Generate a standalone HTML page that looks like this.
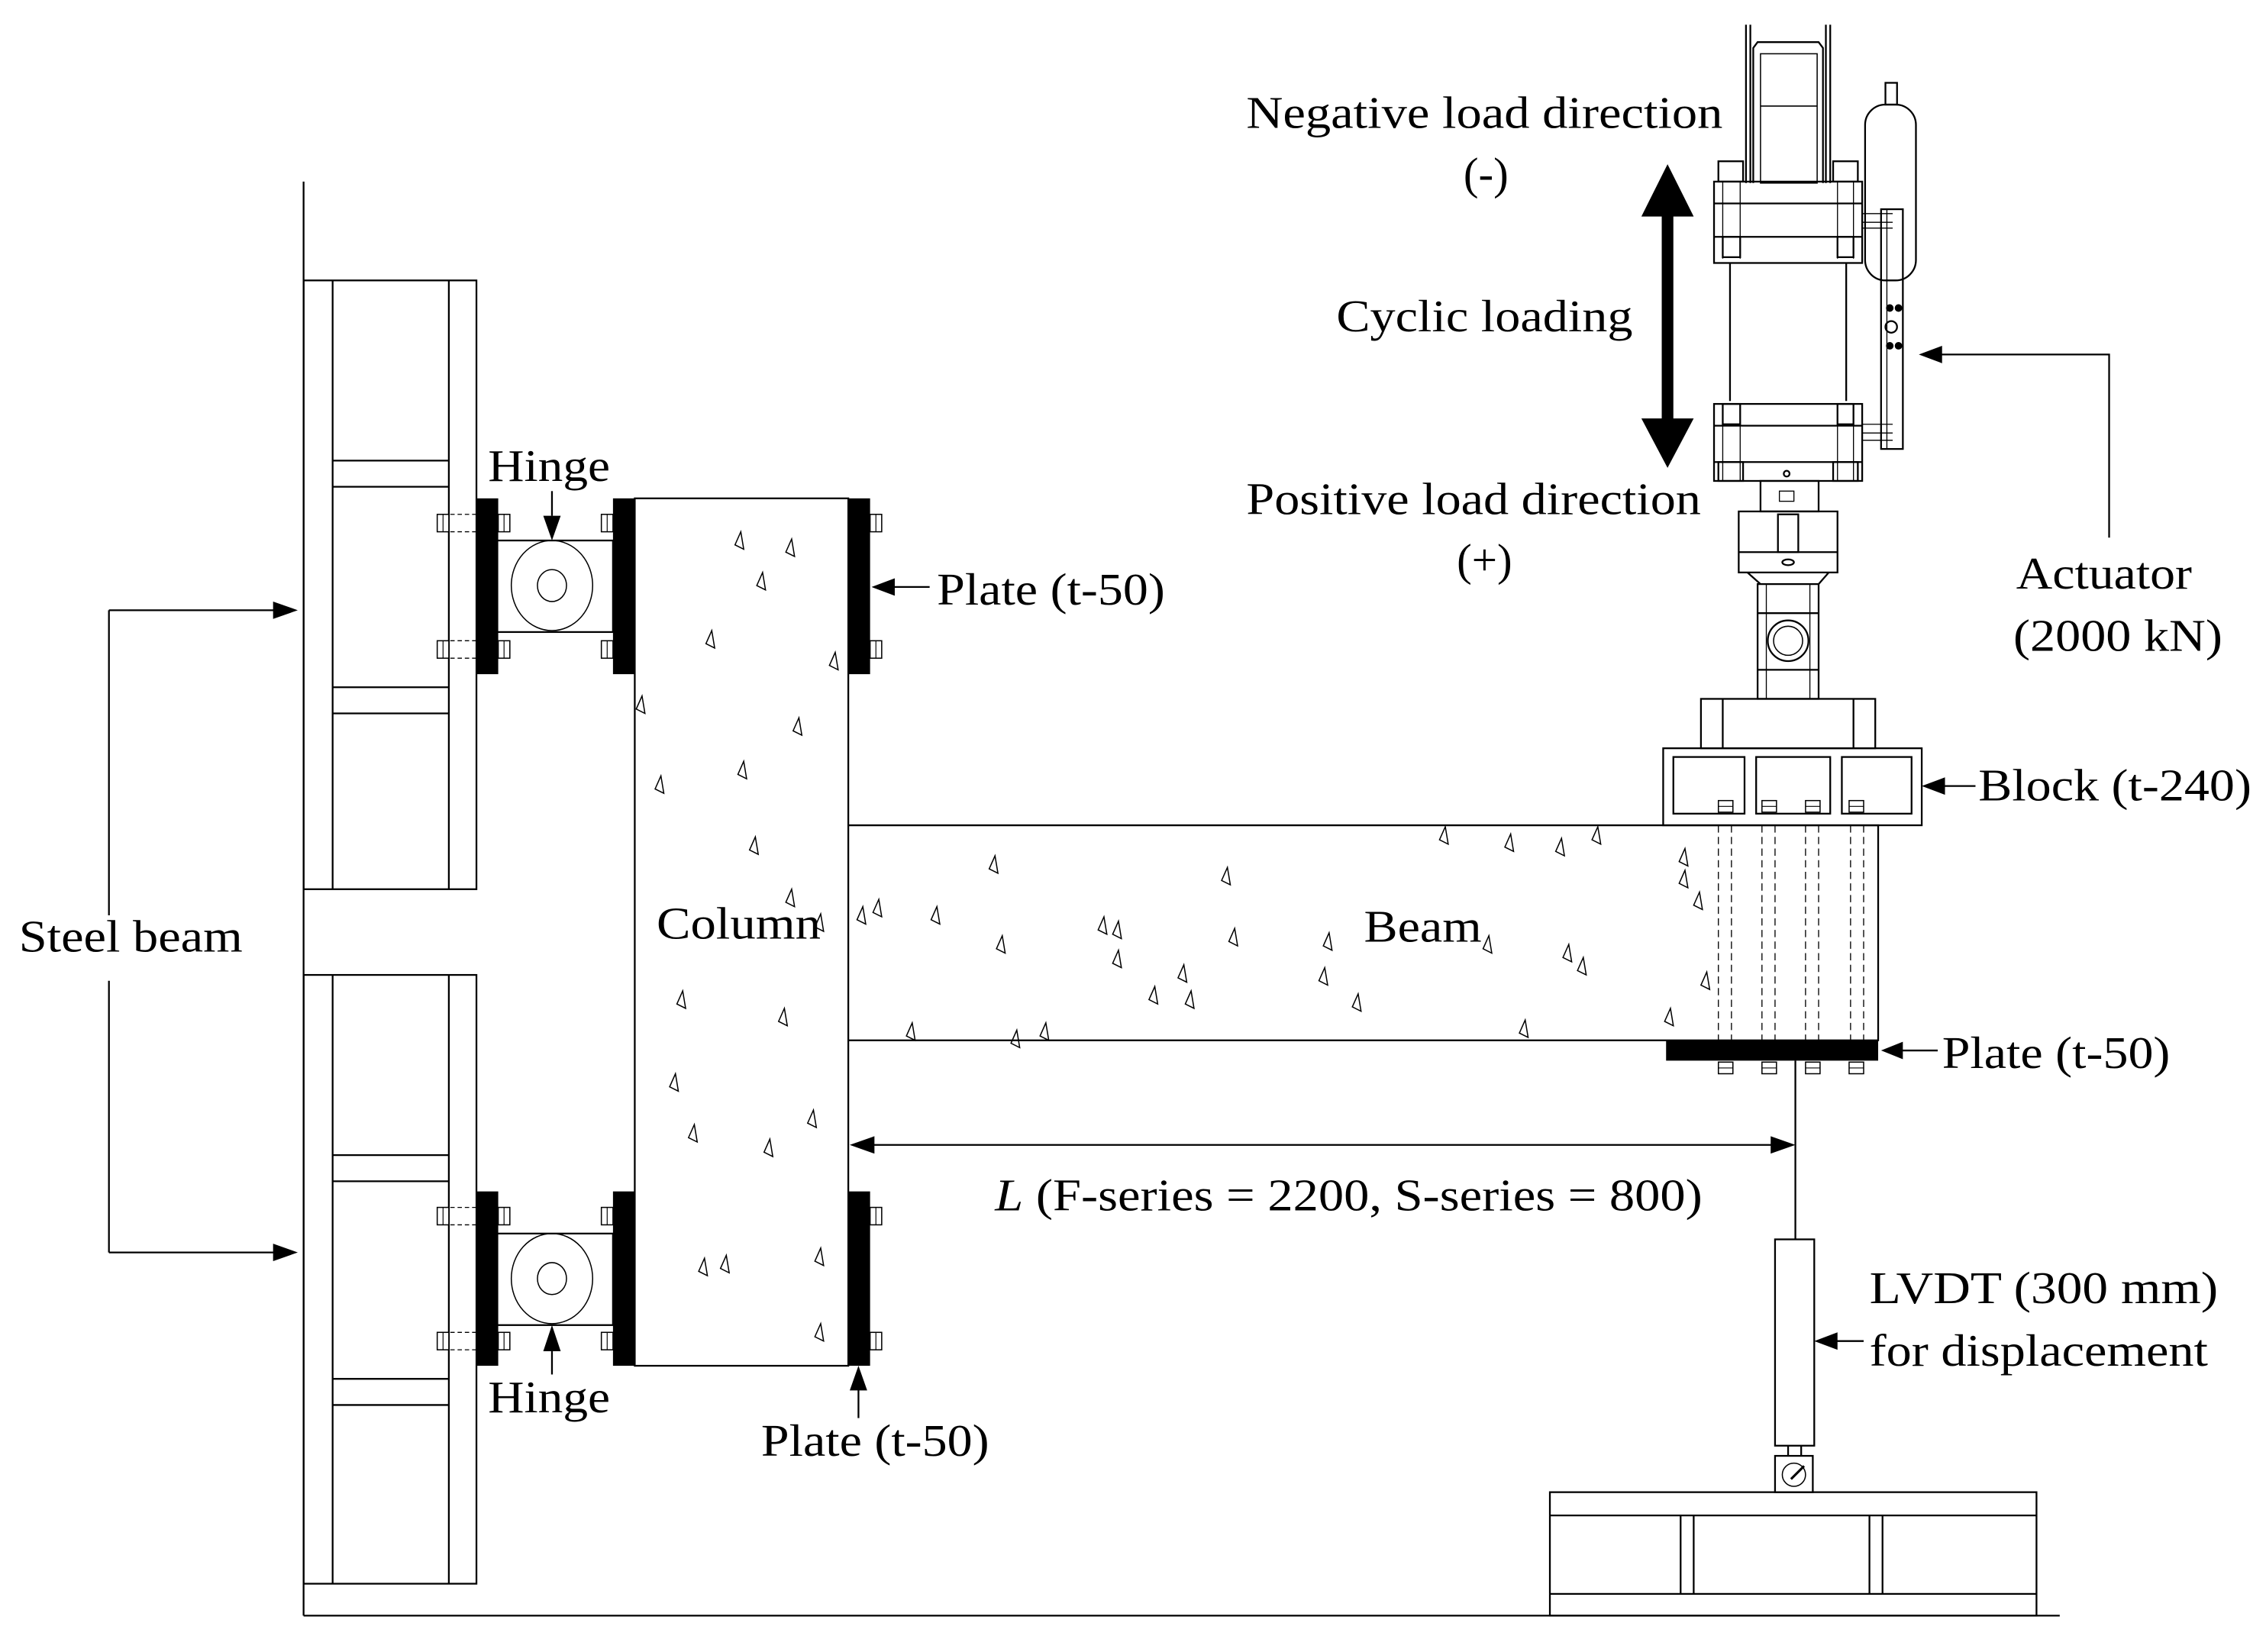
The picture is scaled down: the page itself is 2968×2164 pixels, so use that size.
<!DOCTYPE html>
<html><head><meta charset="utf-8"><style>
html,body{margin:0;padding:0;background:#fff;}
svg{display:block;}
text{font-family:"Liberation Serif",serif;fill:#000;}
</style></head><body>
<svg width="2968" height="2164" viewBox="0 0 1560 1137" preserveAspectRatio="none" xmlns="http://www.w3.org/2000/svg">
<defs>
<path id="tri" d="M0,-6 L2,6 L-4,3 Z" fill="none" stroke="#000" stroke-width="0.8"/>
<g id="nut"><rect x="-5" y="-4" width="10" height="8" fill="#fff" stroke="#000" stroke-width="0.8"/><line x1="-5" y1="0" x2="5" y2="0" stroke="#000" stroke-width="0.6"/></g>
<g id="hnut"><rect x="-4" y="-6" width="8" height="12" fill="#fff" stroke="#000" stroke-width="0.8"/><line x1="0" y1="-6" x2="0" y2="6" stroke="#000" stroke-width="0.6"/></g>
</defs>
<g fill="none" stroke="#000" stroke-width="1.2">
<!-- frame lines -->
<line x1="209" y1="125" x2="209" y2="1112"/>
<line x1="209" y1="1112" x2="1418" y2="1112"/>
<!-- steel beam upper -->
<rect x="209" y="193" width="119" height="419"/>
<line x1="229" y1="193" x2="229" y2="612"/><line x1="309" y1="193" x2="309" y2="612"/>
<line x1="229" y1="317" x2="309" y2="317"/><line x1="229" y1="335" x2="309" y2="335"/>
<line x1="229" y1="473" x2="309" y2="473"/><line x1="229" y1="491" x2="309" y2="491"/>
<!-- steel beam lower -->
<rect x="209" y="671" width="119" height="419"/>
<line x1="229" y1="671" x2="229" y2="1090"/><line x1="309" y1="671" x2="309" y2="1090"/>
<line x1="229" y1="795" x2="309" y2="795"/><line x1="229" y1="813" x2="309" y2="813"/>
<line x1="229" y1="949" x2="309" y2="949"/><line x1="229" y1="967" x2="309" y2="967"/>
<!-- hinge boxes -->
<rect x="338" y="372" width="84" height="63"/>
<ellipse cx="380" cy="403" rx="28" ry="31" stroke-width="0.8"/>
<ellipse cx="380" cy="403" rx="10" ry="11" stroke-width="0.8"/>
<rect x="338" y="849" width="84" height="63"/>
<ellipse cx="380" cy="880" rx="28" ry="31" stroke-width="0.8"/>
<ellipse cx="380" cy="880" rx="10" ry="11" stroke-width="0.8"/>
<!-- column & beam -->
<rect x="437" y="343" width="147" height="597"/>
<path d="M584,568 H1293 V716 H584"/>
<!-- block -->
<rect x="1171" y="481" width="120" height="34"/>
<line x1="1186" y1="481" x2="1186" y2="515"/><line x1="1276" y1="481" x2="1276" y2="515"/>
<rect x="1145" y="515" width="178" height="53"/>
<rect x="1152" y="521" width="49" height="39"/>
<rect x="1209" y="521" width="51" height="39"/>
<rect x="1268" y="521" width="48" height="39"/>
<!-- LVDT -->
<line x1="1236" y1="730" x2="1236" y2="853"/>
<rect x="1222" y="853" width="27" height="142"/>
<line x1="1231" y1="995" x2="1231" y2="1002"/><line x1="1240" y1="995" x2="1240" y2="1002"/>
<rect x="1222" y="1002" width="26" height="25"/>
<circle cx="1235" cy="1015" r="8" stroke-width="0.8"/>
<line x1="1233" y1="1018" x2="1242" y2="1009" stroke-width="1.6"/>
<rect x="1067" y="1027" width="335" height="85"/>
<line x1="1067" y1="1043" x2="1402" y2="1043"/>
<line x1="1067" y1="1097" x2="1402" y2="1097"/>
<line x1="1157" y1="1043" x2="1157" y2="1097"/><line x1="1166" y1="1043" x2="1166" y2="1097"/>
<line x1="1287" y1="1043" x2="1287" y2="1097"/><line x1="1296" y1="1043" x2="1296" y2="1097"/>
<!-- actuator -->
<line x1="1202" y1="17" x2="1202" y2="126"/><line x1="1205" y1="17" x2="1205" y2="126"/>
<line x1="1257" y1="17" x2="1257" y2="126"/><line x1="1260" y1="17" x2="1260" y2="126"/>
<path d="M1207,126 V33 L1210,29 H1252 L1255,33 V126"/>
<rect x="1212" y="37" width="39" height="89" stroke-width="0.8"/>
<line x1="1212" y1="73" x2="1251" y2="73" stroke-width="0.8"/>
<rect x="1183" y="111" width="17" height="14"/><rect x="1262" y="111" width="17" height="14"/>
<rect x="1180" y="125" width="102" height="56"/>
<line x1="1180" y1="140" x2="1282" y2="140"/><line x1="1180" y1="163" x2="1282" y2="163"/>
<line x1="1186" y1="125" x2="1186" y2="178" stroke-width="0.7"/><line x1="1198" y1="125" x2="1198" y2="178" stroke-width="0.7"/>
<line x1="1265" y1="125" x2="1265" y2="178" stroke-width="0.7"/><line x1="1276" y1="125" x2="1276" y2="178" stroke-width="0.7"/>
<rect x="1186" y="163" width="12" height="14"/><rect x="1265" y="163" width="11" height="14"/>
<path d="M1191,181 V276 M1271,181 V276"/>
<rect x="1180" y="278" width="102" height="53"/>
<line x1="1180" y1="293" x2="1282" y2="293"/><line x1="1180" y1="318" x2="1282" y2="318"/>
<line x1="1186" y1="278" x2="1186" y2="331" stroke-width="0.7"/><line x1="1198" y1="278" x2="1198" y2="331" stroke-width="0.7"/>
<line x1="1265" y1="278" x2="1265" y2="331" stroke-width="0.7"/><line x1="1276" y1="278" x2="1276" y2="331" stroke-width="0.7"/>
<rect x="1186" y="278" width="12" height="14"/><rect x="1265" y="278" width="11" height="14"/>
<rect x="1183" y="318" width="17" height="13"/><rect x="1262" y="318" width="17" height="13"/>
<circle cx="1230" cy="326" r="2"/>
<rect x="1212" y="331" width="40" height="21"/>
<rect x="1225" y="338" width="10" height="7" stroke-width="0.7"/>
<rect x="1197" y="352" width="68" height="42"/>
<line x1="1197" y1="380" x2="1265" y2="380"/>
<rect x="1224" y="354" width="14" height="26"/>
<ellipse cx="1231" cy="387" rx="4" ry="2"/>
<path d="M1203,394 L1212,402 M1259,394 L1252,402"/>
<rect x="1210" y="402" width="42" height="79"/>
<line x1="1216" y1="402" x2="1216" y2="481" stroke-width="0.7"/><line x1="1246" y1="402" x2="1246" y2="481" stroke-width="0.7"/>
<line x1="1210" y1="422" x2="1252" y2="422"/><line x1="1210" y1="461" x2="1252" y2="461"/>
<circle cx="1231" cy="441" r="14"/><circle cx="1231" cy="441" r="10" stroke-width="0.8"/>
<!-- accumulator -->
<rect x="1298" y="57" width="8" height="15"/>
<rect x="1284" y="72" width="35" height="121" rx="14"/>
<rect x="1295" y="144" width="15" height="165"/>
<line x1="1299" y1="144" x2="1299" y2="309" stroke-width="0.7"/>
<path d="M1282,147 H1303 M1282,153 H1303 M1282,157 H1303 M1282,292 H1303 M1282,298 H1303 M1282,303 H1303" stroke-width="0.7"/>
<circle cx="1301" cy="212" r="2" fill="#000"/><circle cx="1307" cy="212" r="2" fill="#000"/>
<circle cx="1301" cy="238" r="2" fill="#000"/><circle cx="1307" cy="238" r="2" fill="#000"/>
<circle cx="1302" cy="225" r="4"/>
<!-- dashed bolts in beam -->
<g stroke-dasharray="5,3" stroke-width="0.7">
<line x1="1183" y1="568" x2="1183" y2="716"/><line x1="1192" y1="568" x2="1192" y2="716"/>
<line x1="1213" y1="568" x2="1213" y2="716"/><line x1="1222" y1="568" x2="1222" y2="716"/>
<line x1="1243" y1="568" x2="1243" y2="716"/><line x1="1252" y1="568" x2="1252" y2="716"/>
<line x1="1274" y1="568" x2="1274" y2="716"/><line x1="1283" y1="568" x2="1283" y2="716"/>
</g>
<!-- hinge dashed bolts -->
<g stroke-dasharray="3,2" stroke-width="0.7">
<path d="M310,354 H328 M310,366 H328 M310,441 H328 M310,453 H328 M310,831 H328 M310,843 H328 M310,917 H328 M310,929 H328"/>
</g>
<!-- leader lines -->
<line x1="75" y1="420" x2="192" y2="420"/><line x1="75" y1="420" x2="75" y2="630"/>
<line x1="75" y1="675" x2="75" y2="862"/><line x1="75" y1="862" x2="192" y2="862"/>
<line x1="380" y1="338" x2="380" y2="355"/>
<line x1="380" y1="930" x2="380" y2="946"/>
<line x1="614" y1="404" x2="640" y2="404"/>
<line x1="591" y1="956" x2="591" y2="976"/>
<line x1="1337" y1="541" x2="1360" y2="541"/>
<line x1="1308" y1="723" x2="1334" y2="723"/>
<line x1="1263" y1="923" x2="1283" y2="923"/>
<path d="M1334,244 H1452 V370"/>
<line x1="599" y1="788" x2="1222" y2="788"/>
</g>
<!-- black plates -->
<g fill="#000">
<rect x="328" y="343" width="15" height="121"/><rect x="422" y="343" width="15" height="121"/>
<rect x="328" y="820" width="15" height="120"/><rect x="422" y="820" width="15" height="120"/>
<rect x="584" y="343" width="15" height="121"/><rect x="584" y="820" width="15" height="120"/>
<rect x="1147" y="716" width="146" height="14"/>
<!-- cyclic arrow -->
<polygon points="1148,113 1166,149 1152,149 1152,288 1166,288 1148,322 1130,288 1144,288 1144,149 1130,149"/>
<!-- arrowheads -->
<polygon points="205,420 188,414 188,426"/>
<polygon points="205,862 188,856 188,868"/>
<polygon points="380,372 374,355 386,355"/>
<polygon points="380,912 374,930 386,930"/>
<polygon points="600,404 616,398 616,410"/>
<polygon points="591,940 585,957 597,957"/>
<polygon points="1321,244 1337,238 1337,250"/>
<polygon points="1323,541 1339,535 1339,547"/>
<polygon points="1295,723 1310,717 1310,729"/>
<polygon points="1249,923 1265,917 1265,929"/>
<polygon points="585,788 602,782 602,794"/>
<polygon points="1236,788 1219,782 1219,794"/>
</g>
<!-- nuts -->
<g>
<use href="#hnut" x="305" y="360"/><use href="#hnut" x="347" y="360"/><use href="#hnut" x="418" y="360"/>
<use href="#hnut" x="305" y="447"/><use href="#hnut" x="347" y="447"/><use href="#hnut" x="418" y="447"/>
<use href="#hnut" x="305" y="837"/><use href="#hnut" x="347" y="837"/><use href="#hnut" x="418" y="837"/>
<use href="#hnut" x="305" y="923"/><use href="#hnut" x="347" y="923"/><use href="#hnut" x="418" y="923"/>
<use href="#hnut" x="603" y="360"/><use href="#hnut" x="603" y="447"/>
<use href="#hnut" x="603" y="837"/><use href="#hnut" x="603" y="923"/>
<use href="#nut" x="1188" y="555"/><use href="#nut" x="1218" y="555"/><use href="#nut" x="1248" y="555"/><use href="#nut" x="1278" y="555"/>
<use href="#nut" x="1188" y="735"/><use href="#nut" x="1218" y="735"/><use href="#nut" x="1248" y="735"/><use href="#nut" x="1278" y="735"/>
</g>
<!-- aggregates -->
<g>
<use href="#tri" x="510" y="372"/><use href="#tri" x="545" y="377"/><use href="#tri" x="490" y="440"/><use href="#tri" x="575" y="455"/>
<use href="#tri" x="550" y="500"/><use href="#tri" x="512" y="530"/><use href="#tri" x="455" y="540"/><use href="#tri" x="520" y="582"/>
<use href="#tri" x="545" y="618"/><use href="#tri" x="565" y="635"/><use href="#tri" x="470" y="688"/><use href="#tri" x="540" y="700"/>
<use href="#tri" x="465" y="745"/><use href="#tri" x="478" y="780"/><use href="#tri" x="530" y="790"/><use href="#tri" x="560" y="770"/>
<use href="#tri" x="485" y="872"/><use href="#tri" x="500" y="870"/><use href="#tri" x="565" y="865"/><use href="#tri" x="565" y="917"/>
<use href="#tri" x="442" y="485"/><use href="#tri" x="525" y="400"/>
<use href="#tri" x="605" y="625"/><use href="#tri" x="594" y="630"/><use href="#tri" x="690" y="650"/><use href="#tri" x="685" y="595"/>
<use href="#tri" x="720" y="710"/><use href="#tri" x="760" y="637"/><use href="#tri" x="770" y="660"/><use href="#tri" x="795" y="685"/>
<use href="#tri" x="850" y="645"/><use href="#tri" x="845" y="603"/><use href="#tri" x="915" y="648"/><use href="#tri" x="935" y="690"/>
<use href="#tri" x="995" y="575"/><use href="#tri" x="1040" y="580"/><use href="#tri" x="1075" y="583"/><use href="#tri" x="1100" y="575"/>
<use href="#tri" x="1160" y="590"/><use href="#tri" x="1160" y="605"/><use href="#tri" x="1170" y="620"/><use href="#tri" x="1050" y="708"/>
<use href="#tri" x="1025" y="650"/><use href="#tri" x="1080" y="656"/><use href="#tri" x="1090" y="665"/><use href="#tri" x="1175" y="675"/>
<use href="#tri" x="1150" y="700"/><use href="#tri" x="815" y="670"/><use href="#tri" x="820" y="688"/><use href="#tri" x="912" y="672"/>
<use href="#tri" x="628" y="710"/><use href="#tri" x="700" y="715"/><use href="#tri" x="645" y="630"/><use href="#tri" x="770" y="640"/>
</g>
<!-- texts -->
<g font-size="31">
<text x="858" y="88" textLength="328" lengthAdjust="spacingAndGlyphs">Negative load direction</text>
<text x="1023" y="130" text-anchor="middle">(-)</text>
<text x="920" y="228" textLength="204" lengthAdjust="spacingAndGlyphs">Cyclic loading</text>
<text x="858" y="354" textLength="313" lengthAdjust="spacingAndGlyphs">Positive load direction</text>
<text x="1022" y="396" text-anchor="middle">(+)</text>
<text x="1388" y="405" textLength="121" lengthAdjust="spacingAndGlyphs">Actuator</text>
<text x="1386" y="448" textLength="144" lengthAdjust="spacingAndGlyphs">(2000 kN)</text>
<text x="1362" y="551" textLength="188" lengthAdjust="spacingAndGlyphs">Block (t-240)</text>
<text x="1337" y="735" textLength="157" lengthAdjust="spacingAndGlyphs">Plate (t-50)</text>
<text x="1287" y="897" textLength="240" lengthAdjust="spacingAndGlyphs">LVDT (300 mm)</text>
<text x="1287" y="940" textLength="233" lengthAdjust="spacingAndGlyphs">for displacement</text>
<text x="685" y="833" textLength="487" lengthAdjust="spacingAndGlyphs"><tspan font-style="italic">L</tspan> (F-series = 2200, S-series = 800)</text>
<text x="524" y="1002" textLength="157" lengthAdjust="spacingAndGlyphs">Plate (t-50)</text>
<text x="645" y="416" textLength="157" lengthAdjust="spacingAndGlyphs">Plate (t-50)</text>
<text x="336" y="331" textLength="84" lengthAdjust="spacingAndGlyphs">Hinge</text>
<text x="336" y="972" textLength="84" lengthAdjust="spacingAndGlyphs">Hinge</text>
<text x="452" y="646" textLength="113" lengthAdjust="spacingAndGlyphs">Column</text>
<text x="939" y="648" textLength="81" lengthAdjust="spacingAndGlyphs">Beam</text>
<text x="13" y="655" textLength="154" lengthAdjust="spacingAndGlyphs">Steel beam</text>
</g>
</svg>
</body></html>
